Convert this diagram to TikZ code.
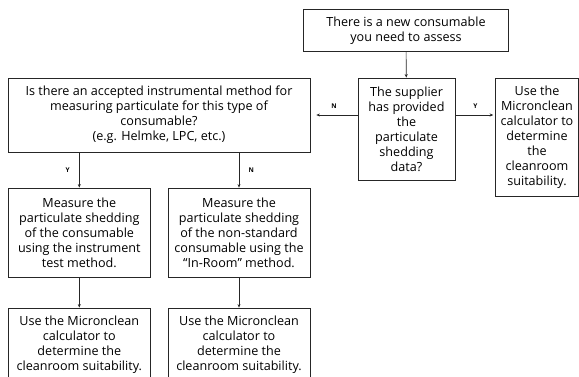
\documentclass[tikz,border=0pt]{standalone}
\usepackage{fontspec}
\setmainfont{Open Sans}
\usepackage{tikz}
\usetikzlibrary{positioning,arrows.meta}

\begin{document}
\begin{tikzpicture}[x=1pt,y=-1pt,>={Stealth[length=3.5pt,width=3pt]},
  font=\fontsize{12.6}{15}\selectfont,
  box/.style={draw=black!85,line width=0.8pt,align=center,inner sep=0pt},
  yn/.style={font=\fontsize{6.5}{7}\selectfont\bfseries},
  link/.style={->,draw=black!85,line width=0.7pt}]
\clip (0,0) rectangle (579,376);
% start and supplier question
\node[box,minimum width=205,minimum height=42.7] (new) at (406,30.3)
  {There is a new consumable\\you need to assess};
\node[box,minimum width=97,minimum height=102] (supp) at (406.5,129)
  {The supplier\\has provided\\the\\particulate\\shedding\\data?};
\node[box,minimum width=82.7,minimum height=118] (calc) at (537,137)
  {Use the\\Micronclean\\calculator to\\determine\\the\\cleanroom\\suitability.};
\node[box,minimum width=302,minimum height=74] (method) at (159,115)
  {Is there an accepted instrumental method for\\measuring particulate for this type of\\consumable?\\(e.g. Helmke, LPC, etc.)};
\draw[link] (new) -- (supp);
\draw[link,shorten >=6pt] (supp.west |- method.east) -- node[yn,above=3pt]{N} (method.east);
\draw[link,shorten >=2pt] (supp.east |- method.east) -- node[yn,above=3pt]{Y} (calc.west |- method.east);
% instrument / in-room branches
\node[box,minimum width=142.7,minimum height=89] (meas1) at (79.3,232.5)
  {Measure the\\particulate shedding\\of the consumable\\using the instrument\\test method.};
\node[box,minimum width=142,minimum height=89] (meas2) at (239,232.5)
  {Measure the\\particulate shedding\\of the non-standard\\consumable using the\\``In-Room'' method.};
\node[box,minimum width=142.7,minimum height=73] (use1) at (79.3,344.5)
  {Use the Micronclean\\calculator to\\determine the\\cleanroom suitability.};
\node[box,minimum width=142,minimum height=73] (use2) at (239,344.5)
  {Use the Micronclean\\calculator to\\determine the\\cleanroom suitability.};
\draw[link] (meas1.north |- method.south) -- node[yn,left=6pt]{Y} (meas1);
\draw[link] (meas2.north |- method.south) -- node[yn,right=6pt]{N} (meas2);
\draw[link] (meas1) -- (use1);
\draw[link] (meas2) -- (use2);
\end{tikzpicture}
\end{document}
